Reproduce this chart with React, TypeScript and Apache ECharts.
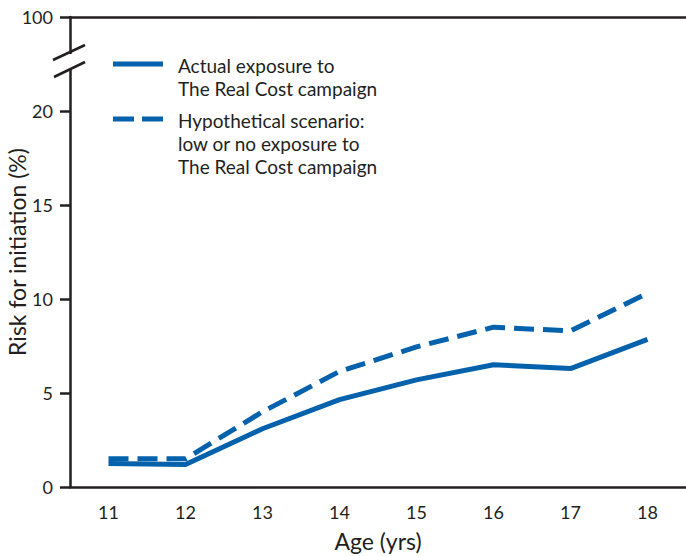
import React, { useEffect, useRef } from "react";
import * as echarts from "echarts";

const ages = ["11", "12", "13", "14", "15", "16", "17", "18"];
const actualExposure = [1.25, 1.2, 3.1, 4.65, 5.7, 6.5, 6.3, 7.85];
const hypotheticalLow = [1.5, 1.5, 4.0, 6.15, 7.45, 8.5, 8.3, 10.3];
const legendActual = ["Actual exposure to", "The Real Cost campaign"];
const legendHypo = ["Hypothetical scenario:", "low or no exposure to", "The Real Cost campaign"];
const yMax = 25; // position where the broken axis shows 100
const yTopLabel = "100";

const INK = "#231f20";
const BLUE = "#0461ac";
const FONT = "Lato";

export default function App() {
  const ref = useRef<HTMLDivElement>(null);
  useEffect(() => {
    if (!ref.current) return;
    const chart = echarts.init(ref.current, undefined, { renderer: "svg" });
    const gridLeft = 70, gridTop = 17, gridW = 616, gridH = 470;
    const lineStep = 23;
    const legendTexts = (lines: string[], yFirst: number) =>
      lines.map((t, i) => ({
        type: "text",
        x: 178,
        y: yFirst + i * lineStep,
        z: 100,
        style: { text: t, fontSize: 19, fontFamily: FONT, fill: INK, verticalAlign: "middle" },
      }));
    chart.setOption({
      animation: false,
      backgroundColor: "#fff",
      textStyle: { fontFamily: FONT, color: INK },
      grid: {
        left: gridLeft, top: gridTop, width: gridW, height: gridH,
        containLabel: false, outerBoundsMode: "none",
      },
      xAxis: [
        {
          type: "category",
          data: ages,
          boundaryGap: true,
          name: "Age (yrs)",
          nameLocation: "middle",
          nameGap: 42,
          nameMoveOverlap: false,
          nameTextStyle: { fontSize: 23, color: INK, fontFamily: FONT },
          axisLine: { lineStyle: { color: INK, width: 2.5 } },
          axisTick: { alignWithLabel: true, length: 10, lineStyle: { color: INK, width: 2.5 } },
          axisLabel: { fontSize: 18, color: INK, margin: 16, fontFamily: FONT },
          splitLine: { show: false },
        },
        {
          type: "value",
          position: "top",
          min: 0,
          max: 1,
          axisLine: { show: true, onZero: false, lineStyle: { color: INK, width: 2.5 } },
          axisTick: { show: false },
          axisLabel: { show: false },
          splitLine: { show: false },
        },
      ],
      yAxis: {
        type: "value",
        min: 0,
        max: yMax,
        interval: 5,
        name: "Risk for initiation (%)",
        nameLocation: "middle",
        nameGap: 42,
        nameMoveOverlap: false,
        nameTextStyle: { fontSize: 23, color: INK, fontFamily: FONT },
        axisLine: { show: true, lineStyle: { color: INK, width: 2.5 } },
        axisTick: { show: true, length: 10, lineStyle: { color: INK, width: 2.5 } },
        axisLabel: {
          fontSize: 18,
          color: INK,
          margin: 17,
          fontFamily: FONT,
          formatter: (v: number) => (v === yMax ? yTopLabel : String(v)),
        },
        splitLine: { show: false },
      },
      series: [
        {
          name: legendActual.join(" "),
          type: "line",
          data: actualExposure,
          symbol: "none",
          lineStyle: { color: BLUE, width: 5, type: "solid" },
          z: 3,
        },
        {
          name: legendHypo.join(" "),
          type: "line",
          data: hypotheticalLow,
          symbol: "none",
          lineStyle: { color: BLUE, width: 5, type: [20, 9] },
          z: 3,
        },
      ],
      graphic: [
        // axis break
        { type: "rect", shape: { x: gridLeft - 5, y: 54, width: 10, height: 15 }, style: { fill: "#fff" }, z: 100 },
        { type: "line", shape: { x1: 53, y1: 60, x2: 85, y2: 45 }, style: { stroke: INK, lineWidth: 2.5 }, z: 101 },
        { type: "line", shape: { x1: 54, y1: 77, x2: 85, y2: 62 }, style: { stroke: INK, lineWidth: 2.5 }, z: 101 },
        // legend
        { type: "line", shape: { x1: 113, y1: 64, x2: 163, y2: 64 }, style: { stroke: BLUE, lineWidth: 5 }, z: 100 },
        ...legendTexts(legendActual, 65),
        { type: "line", shape: { x1: 113, y1: 119, x2: 163, y2: 119 }, style: { stroke: BLUE, lineWidth: 5, lineDash: [21, 8] }, z: 100 },
        ...legendTexts(legendHypo, 120),
      ],
    });
    return () => chart.dispose();
  }, []);
  return (
    <div
      ref={ref}
      style={{ position: "absolute", left: 0, top: 0, width: 686, height: 556, background: "#fff" }}
    />
  );
}
